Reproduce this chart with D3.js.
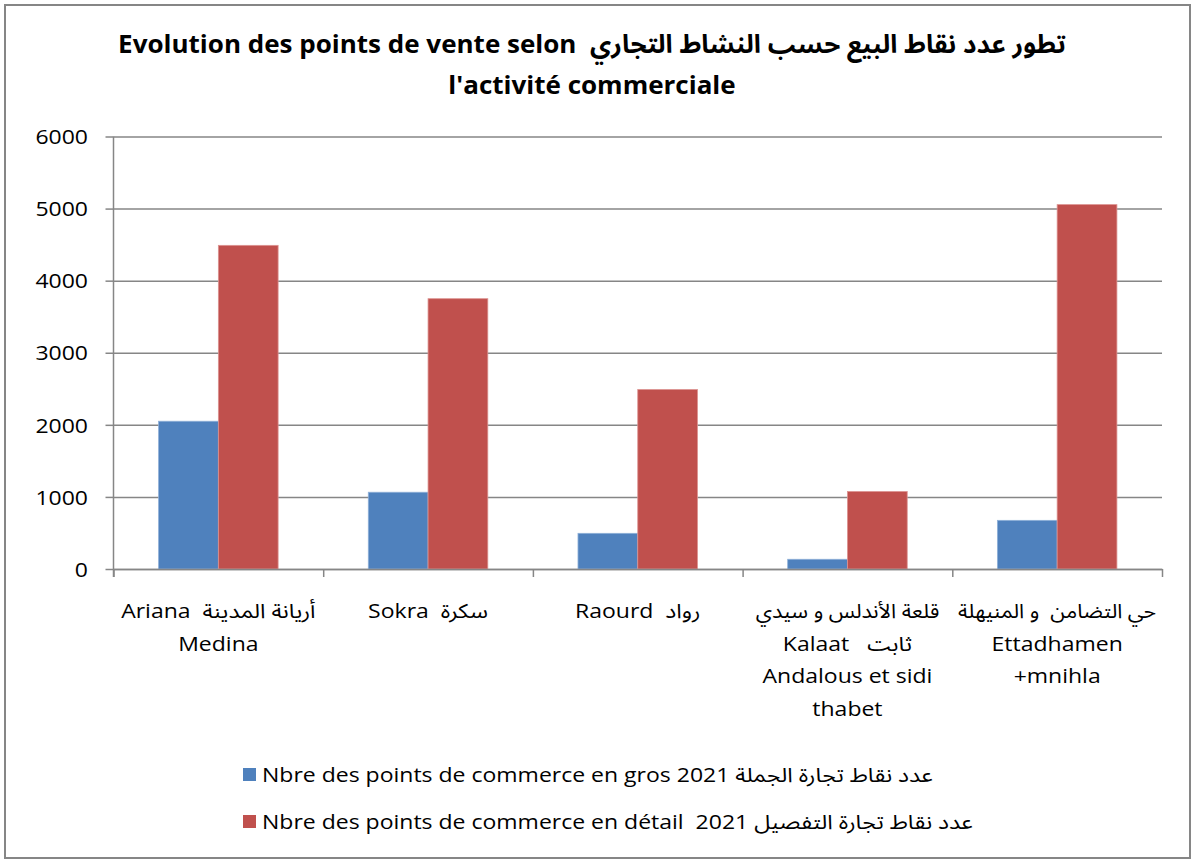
<!DOCTYPE html>
<html>
<head>
<meta charset="utf-8">
<script src="https://cdn.jsdelivr.net/npm/d3@7"></script>
<style>
  html, body { margin: 0; padding: 0; background: #ffffff; }
  svg { display: block; }
  text { font-family: "Open Sans", "Noto Sans Arabic", "DejaVu Sans", sans-serif; fill: #000; white-space: pre; }
</style>
</head>
<body>
<svg id="chart" width="1192" height="859"></svg>
<script>
// Delegations of Ariana governorate
const categories = ["Ariana Medina", "Sokra", "Raourd", "Kalaat Andalous et sidi thabet", "Ettadhamen +mnihla"];
// Multi-line axis labels, one array per category
const categoryLabels = [
  ["Ariana  أريانة المدينة", "Medina"],
  ["Sokra  سكرة"],
  ["Raourd  رواد"],
  ["قلعة الأندلس و سيدي", "Kalaat   ثابت", "Andalous et sidi", "thabet"],
  ["حي التضامن  و المنيهلة", "Ettadhamen", "+mnihla"]
];
// Wholesale points of sale, 2021
const grosValues = [2050, 1065, 495, 135, 675];
// Retail points of sale, 2021
const detailValues = [4490, 3750, 2490, 1075, 5055];
const seriesNames = [
  "Nbre des points de commerce en gros 2021 عدد نقاط تجارة الجملة",
  "Nbre des points de commerce en détail  2021 عدد نقاط تجارة التفصيل"
];
const seriesColors = ["#4F81BD", "#C0504D"];
const seriesStrokes = ["#8fb0d8", "#dc9391"];
const yTicks = [0, 1000, 2000, 3000, 4000, 5000, 6000];
const titleLines = [
  "Evolution des points de vente selon  تطور عدد نقاط البيع حسب النشاط التجاري",
  "l'activité commerciale"
];

const svg = d3.select("#chart");
const plot = { left: 113.5, right: 1162, top: 136.5, bottom: 569 };
const grid = "#868686";
const stretch = 1.15;      // horizontal widening of the Latin body text
const arabicStretch = 1.07; // lines written only in Arabic script
const bodySize = 20;

// places a text element at (x, y) with the body text widening applied
function placeText(sel, x, y) {
  return sel.attr("transform", `translate(${x},${y}) scale(${stretch},1)`);
}
const hasLatin = s => /[A-Za-z]/.test(s);

// outer frame
svg.append("rect")
  .attr("x", 5).attr("y", 5).attr("width", 1185).attr("height", 853)
  .attr("fill", "#fff").attr("stroke", grid).attr("stroke-width", 2);

// title
svg.append("g").selectAll("text").data(titleLines).join("text")
  .attr("transform", (d, i) => `translate(592,${53 + i * 41}) scale(1.02,1)`)
  .attr("text-anchor", "middle").attr("direction", "ltr")
  .attr("font-size", 25.5).attr("font-weight", "bold")
  .text(d => d);

const y = d3.scaleLinear().domain([0, 6000]).range([plot.bottom, plot.top]);
const x0 = d3.scaleBand().domain(categories).range([plot.left, plot.right])
  .paddingInner(0.43).paddingOuter(0.215);
const x1 = d3.scaleBand().domain([0, 1]).range([0, x0.bandwidth()]);
const xEdge = d3.scaleLinear().domain([0, categories.length]).range([plot.left, plot.right]);

// horizontal gridlines
const gGrid = svg.append("g").attr("transform", `translate(${plot.left},0)`)
  .call(d3.axisLeft(y).tickValues(yTicks).tickSize(-(plot.right - plot.left)).tickFormat(""));
gGrid.select(".domain").remove();
gGrid.selectAll("line").attr("stroke", grid).attr("stroke-width", 1.5);

// bars
const series = [grosValues, detailValues];
series.forEach((vals, s) => {
  svg.append("g").selectAll("rect").data(vals).join("rect")
    .attr("x", (d, i) => x0(categories[i]) + x1(s))
    .attr("y", d => y(d))
    .attr("width", x1.bandwidth())
    .attr("height", d => y(0) - y(d))
    .attr("fill", seriesColors[s])
    .attr("stroke", seriesStrokes[s]).attr("stroke-width", 0.8);
});

// y axis
const gy = svg.append("g").attr("transform", `translate(${plot.left},0)`)
  .call(d3.axisLeft(y).tickValues(yTicks).tickFormat(d3.format("d")).tickSize(8).tickSizeOuter(0));
gy.select(".domain").attr("stroke", grid).attr("stroke-width", 1.5)
  .attr("d", `M0,${plot.top}V${plot.bottom + 8}`);
gy.selectAll("line").attr("stroke", grid).attr("stroke-width", 1.5);
gy.selectAll("text")
  .attr("x", null).attr("dy", "0.36em")
  .attr("transform", `translate(-25.5,0) scale(${stretch},1)`)
  .attr("font-size", bodySize).attr("font-family", "'Open Sans', sans-serif").attr("fill", "#000");

// x axis with ticks on category boundaries
const gx = svg.append("g").attr("transform", `translate(0,${plot.bottom})`)
  .call(d3.axisBottom(xEdge).ticks(categories.length).tickSize(8).tickFormat("").tickSizeOuter(0));
gx.select(".domain").attr("stroke", grid).attr("stroke-width", 1.5);
gx.selectAll("line").attr("stroke", grid).attr("stroke-width", 1.5);

// category labels
const gl = svg.append("g");
categories.forEach((c, i) => {
  const cx = x0(c) + x0.bandwidth() / 2;
  gl.append("g").selectAll("text").data(categoryLabels[i]).join("text")
    .attr("transform", (d, j) =>
      `translate(${cx},${618 + j * 32.5}) scale(${hasLatin(d) ? stretch : arabicStretch},1)`)
    .attr("text-anchor", "middle").attr("direction", "ltr")
    .attr("font-size", bodySize)
    .text(d => d);
});

// legend
const lg = svg.append("g");
seriesNames.forEach((name, s) => {
  const ly = 782 + s * 47;
  lg.append("rect").attr("x", 243).attr("y", ly - 14).attr("width", 13).attr("height", 13)
    .attr("fill", seriesColors[s]);
  lg.append("text").call(placeText, 262, ly).attr("direction", "ltr")
    .attr("font-size", bodySize).text(name);
});
</script>
</body>
</html>
